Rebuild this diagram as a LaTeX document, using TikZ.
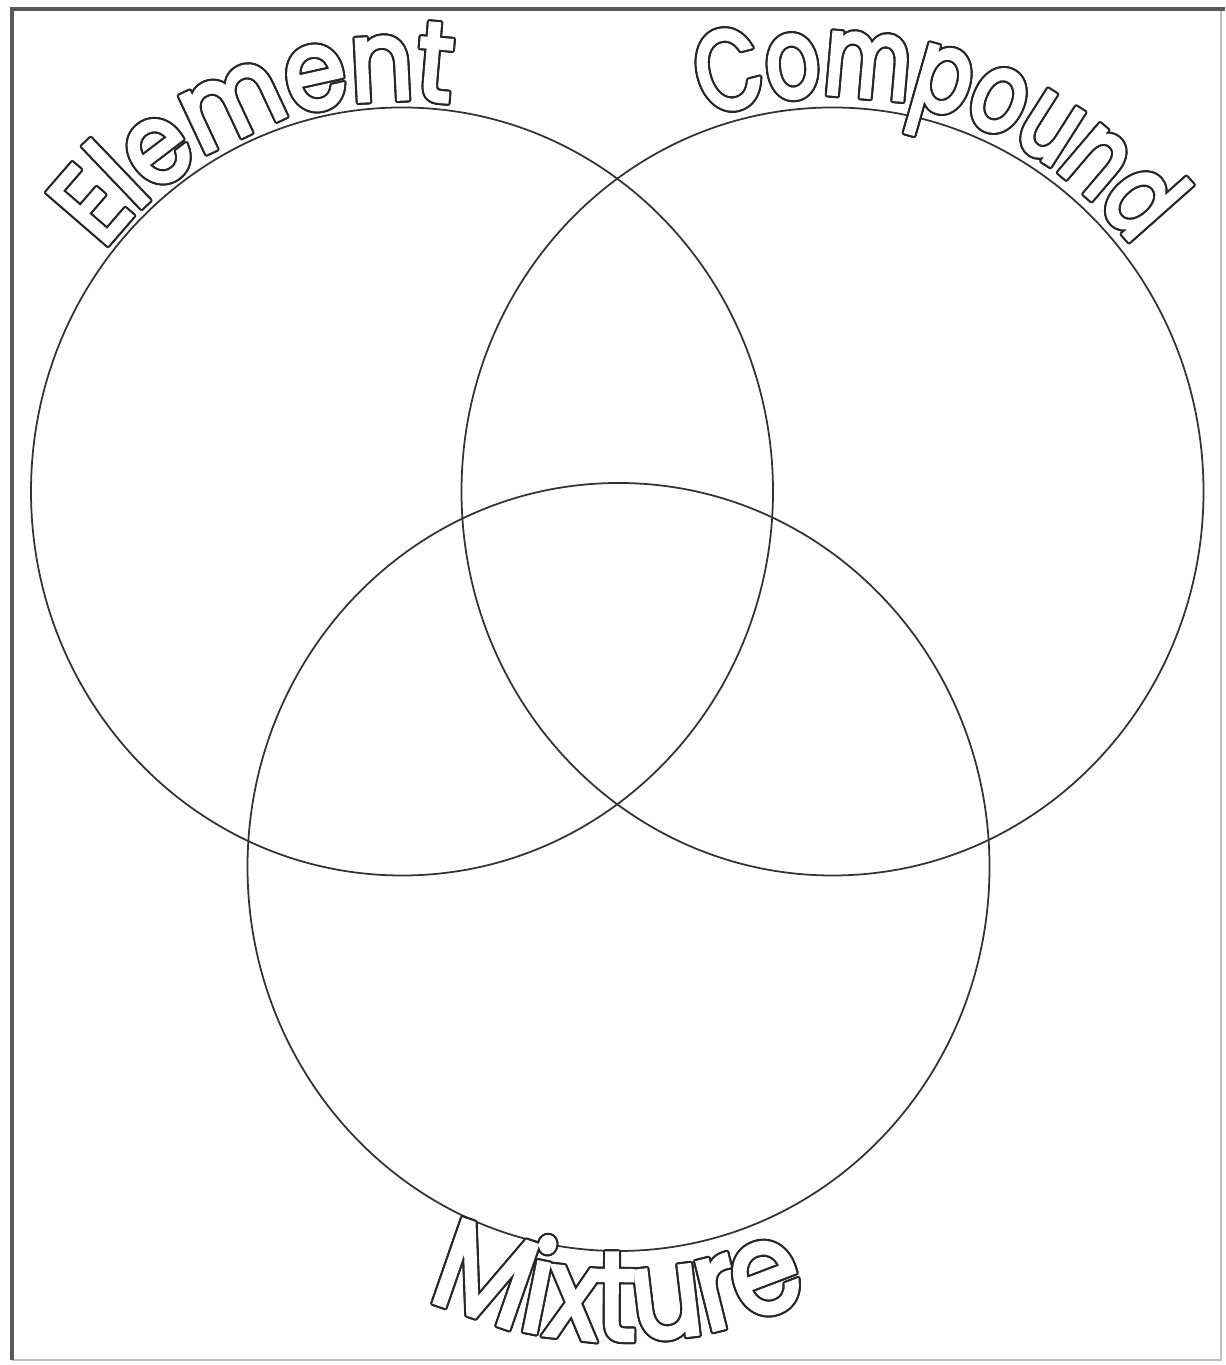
\documentclass[tikz,border=0pt]{standalone}
\usepackage{fontspec}
\usepackage{tikz}
\usetikzlibrary{decorations.text}
\newfontfamily\vennfont{Poppins}[FakeStretch=0.87, FakeBold=3]
\newfontfamily\vennnarrow{Poppins}[FakeStretch=0.74, FakeBold=3]

\tikzset{
  ring/.style={draw=black!80, line width=1pt},
  frameline/.style={draw=black!65, line width=1.8pt},
  faintline/.style={draw=black!25, line width=0.6pt},
}

% hollow lettering: dark copies around, white copy on top
\newcommand{\hollowword}[3]{%
  \foreach \ang in {0,22.5,...,337.5}
    \path[decorate, shift={(\ang:1.2pt)}, decoration={text along path, text align=center,
      text={|#3\color{black!85}|#2}}] #1;
  \path[decorate, decoration={text along path, text align=center,
    text={|#3\color{white}|#2}}] #1;
}

\begin{document}
\begin{tikzpicture}[x=0.02cm, y=0.02cm]
  \useasboundingbox (0,0) rectangle (1225,1365);
  \draw[faintline] (12,5) -- (1221,5) -- (1221,1356);
  \draw[frameline] (12,5) -- (12,1356) -- (1225,1356);

  \draw[ring] (402,873.5) ellipse [x radius=371, y radius=384];
  \draw[ring] (832.5,873.5) ellipse [x radius=371, y radius=384];
  \draw[ring] (618.5,498) ellipse [x radius=371, y radius=384];

  \hollowword{(402,873.5) ++(172:379 and 392) arc[start angle=172, end angle=52, x radius=379, y radius=392]}{Element}{\fontsize{64}{64}\selectfont\vennfont}
  \hollowword{(832.5,873.5) ++(139:383 and 396) arc[start angle=139, end angle=9, x radius=383, y radius=396]}{Compound}{\fontsize{64}{64}\selectfont\vennnarrow}
  \hollowword{(618.5,498) ++(200:460 and 473) arc[start angle=200, end angle=340, x radius=460, y radius=473]}{Mixture}{\fontsize{72}{72}\selectfont\vennfont}
\end{tikzpicture}
\end{document}
